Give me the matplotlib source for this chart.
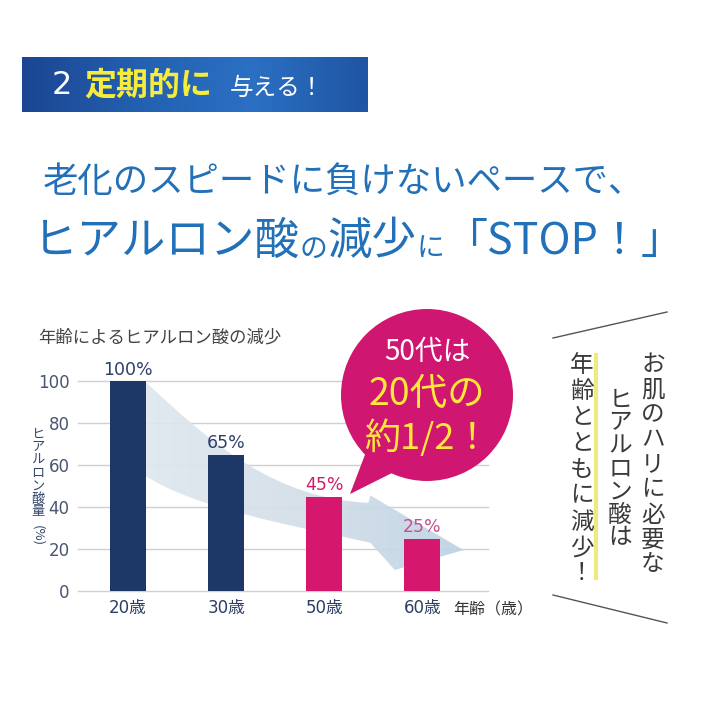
import matplotlib
matplotlib.use('Agg')
import matplotlib.pyplot as plt
import numpy as np
from matplotlib.patches import Circle, Polygon, PathPatch
from matplotlib.path import Path
from matplotlib.colors import LinearSegmentedColormap

plt.rcParams['font.family'] = ['Noto Sans CJK JP', 'DejaVu Sans']
NUMFONT = ['DejaVu Sans', 'Noto Sans CJK JP']

# data
ages = ['20歳', '30歳', '50歳', '60歳']
amounts = [100, 65, 45, 25]
bar_colors = ['#1d3867', '#1d3867', '#d6176e', '#d6176e']
label_colors = ['#2c3f6b', '#2c3f6b', '#cf1e6e', '#c4528c']
yticks = [0, 20, 40, 60, 80, 100]

BLUE = '#2170b8'
TXT = '#3a3a3a'

fig = plt.figure(figsize=(7.1, 7.1), dpi=100)

# ---- bar chart ----
ax = fig.add_axes([78/710, 1-591/710, 410/710, 210/710])
x = np.arange(len(ages))

for t in yticks:
    ax.axhline(t, color='#d0d0d0', lw=1, zorder=0.5, clip_on=False)

# curved pale arrow behind the bars (decoration, data units)
C4 = Path.CURVE4
band_verts = [(0.17, 100), (0.85, 70), (1.5, 44), (2.45, 42),
              (2.47, 45.5), (3.42, 19.5), (2.72, 10), (2.47, 23),
              (1.7, 31), (0.7, 39), (0.17, 55), (0.17, 100)]
band_codes = [Path.MOVETO, C4, C4, C4,
              Path.LINETO, Path.LINETO, Path.LINETO, Path.LINETO,
              C4, C4, C4, Path.CLOSEPOLY]
band = PathPatch(Path(band_verts, band_codes), facecolor='none', edgecolor='none')
ax.add_patch(band)
grad = np.linspace(0, 1, 256).reshape(1, -1)
bcmap = LinearSegmentedColormap.from_list('band', ['#e0e8ef', '#d3dee8', '#bcd2e3'])
im = ax.imshow(grad, extent=(0.1, 3.5, 0, 100), cmap=bcmap, aspect='auto',
               zorder=1, alpha=0.92)
im.set_clip_path(band)

ax.bar(x, amounts, width=0.37, color=bar_colors, zorder=3)
for xi, v, c in zip(x, amounts, label_colors):
    ax.text(xi, v + 5.4, f'{v}%', ha='center', va='center', fontsize=12.5,
            color=c, zorder=4, clip_on=False, family=NUMFONT)

ax.set_xlim(-0.51, 3.67)
ax.set_ylim(0, 100)
for s in ax.spines.values():
    s.set_visible(False)
ax.set_yticks(yticks)
ax.tick_params(axis='y', length=0, pad=6, labelsize=12, labelcolor='#4a5570')
ax.set_xticks(x, ages)
ax.tick_params(axis='x', length=0, pad=6, labelsize=12, labelcolor='#2c3e66')
for lab in ax.get_xticklabels() + ax.get_yticklabels():
    lab.set_fontfamily(NUMFONT)

# ---- overlay in pixel coordinates ----
bg = fig.add_axes([0, 0, 1, 1])
bg.axis('off')

# header banner
hcmap = LinearSegmentedColormap.from_list('hdr', ['#1b4591', '#2360b0', '#2b70c3', '#1f55a3'])
bg.imshow(grad, extent=(22, 368, 112, 57), cmap=hcmap, aspect='auto', zorder=1)
bg.text(52, 86, '2', color='white', fontsize=23, va='center', zorder=2,
        family=NUMFONT)
bg.text(84, 86, '定期的に', color='#f7ec3c', fontsize=23, fontweight='bold',
        va='center', zorder=2)
bg.text(230, 88, '与える！', color='white', fontsize=17, va='center', zorder=2)

# headline
bg.text(43, 182, '老化のスピードに負けないペースで、', fontsize=25.5, color=BLUE,
        va='center')
prev = bg.text(33, 264, 'ヒアルロン酸', fontsize=32, color=BLUE, va='bottom')
for piece, size in [('の', 20), ('減少', 32), ('に', 20), ('「STOP！」', 31)]:
    prev = bg.annotate(piece, xy=(1, 0), xycoords=prev, fontsize=size,
                       color=BLUE, va='bottom', ha='left')

# chart captions
bg.text(38, 337, '年齢によるヒアルロン酸の減少', fontsize=12.5, color='#444444',
        va='center')
bg.text(493, 610, '年齢（歳）', ha='center', va='center', fontsize=11.5, color='#333333')
for i, ch in enumerate('ヒアルロン酸量'):
    bg.text(38, 434 + i * 13, ch, ha='center', va='center', fontsize=9.5,
            color='#34456b')
bg.text(38, 536, '(%)', ha='center', va='center', fontsize=9.5, color='#34456b',
        rotation=-90)

# speech bubble
bg.add_patch(Polygon([(366, 452), (350, 494), (394, 472)], closed=True,
                     color='#cf1670', zorder=5, lw=0))
bg.add_patch(Circle((427, 395), 86, color='#cf1670', zorder=5, lw=0))
bg.text(427, 352, '50代は', ha='center', va='center', fontsize=20, color='white', zorder=6)
bg.text(427, 394, '20代の', ha='center', va='center', fontsize=27, color='#ffe83a', zorder=6)
bg.text(427, 438, '約1/2！', ha='center', va='center', fontsize=26, color='#ffe83a', zorder=6)

# vertical side text
bg.plot([553, 667], [338, 312], color='#555555', lw=1)
bg.plot([553, 667], [595, 623], color='#555555', lw=1)
bg.plot([596, 596], [355, 578], color='#eeea80', lw=3)
columns = [(653, 365, 25, 'お肌のハリに必要な'),
           (620, 400, 23, 'ヒアルロン酸は'),
           (582, 366, 26, '年齢とともに減少！')]
for cx, cy, step, s in columns:
    for i, ch in enumerate(s):
        bg.text(cx, cy + i * step, ch, ha='center', va='center', fontsize=17,
                color=TXT)

bg.set_xlim(0, 710)
bg.set_ylim(710, 0)

fig.savefig('out.png', dpi=100)
